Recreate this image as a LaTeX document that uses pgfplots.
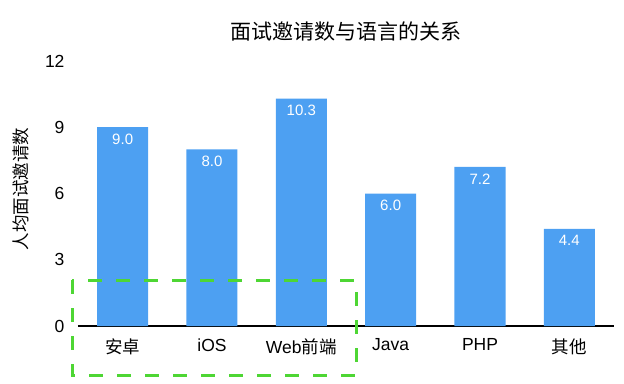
\documentclass[border=0pt]{standalone}
\usepackage{pgfplots}
\pgfplotsset{compat=1.18}
\usepackage{fontspec}
\setmainfont{Liberation Sans}
\newfontfamily\cjk{Noto Sans CJK SC}
\definecolor{barblue}{RGB}{77,160,242}
\definecolor{boxgreen}{RGB}{78,214,52}
\begin{document}
\begin{tikzpicture}
\useasboundingbox (-78pt,-57pt) rectangle (546pt,326pt);
\begin{axis}[
  at={(0pt,0pt)}, anchor=south west,
  scale only axis,
  width=536pt, height=265pt,
  xmin=-0.5, xmax=5.5, ymin=0, ymax=12,
  clip=false,
  axis x line=bottom, axis y line=left,
  x axis line style={-, black, line width=1.2pt},
  y axis line style={draw=none},
  major tick length=0pt,
  tick style={draw=none},
  ytick={0,3,6,9,12},
  xtick={0,1,2,3,4,5},
  xticklabels={{\cjk 安卓},iOS,{Web\cjk 前端},Java,PHP,{\cjk 其他}},
  /pgf/number format/assume math mode=true,
  ticklabel style={font=\fontsize{17.5}{20}\selectfont},
  yticklabel style={xshift=-10pt},
  xticklabel style={yshift=-9pt},
  title={\cjk 面试邀请数与语言的关系},
  title style={at={(0.5,1)}, anchor=center, yshift=23pt, font=\fontsize{21}{24}\selectfont},
  ybar, bar width=51pt,
  nodes near coords={\pgfmathprintnumber[fixed,fixed zerofill,precision=1]{\pgfplotspointmeta}},
  every node near coord/.style={anchor=center, yshift=-12pt, text=white, font=\fontsize{15}{18}\selectfont},
]
\addplot[fill=barblue, draw=none] coordinates {(0,9.0) (1,8.0) (2,10.3) (3,6.0) (4,7.2) (5,4.4)};
\draw[boxgreen, line width=3pt, dash pattern=on 14pt off 14pt] (axis cs:-0.567,2.08) rectangle (axis cs:2.612,-2.22);
\end{axis}
\node[rotate=90, font=\fontsize{17.5}{20}\selectfont] at (-57pt,137pt) {\cjk 人均面试邀请数};
\end{tikzpicture}
\end{document}
